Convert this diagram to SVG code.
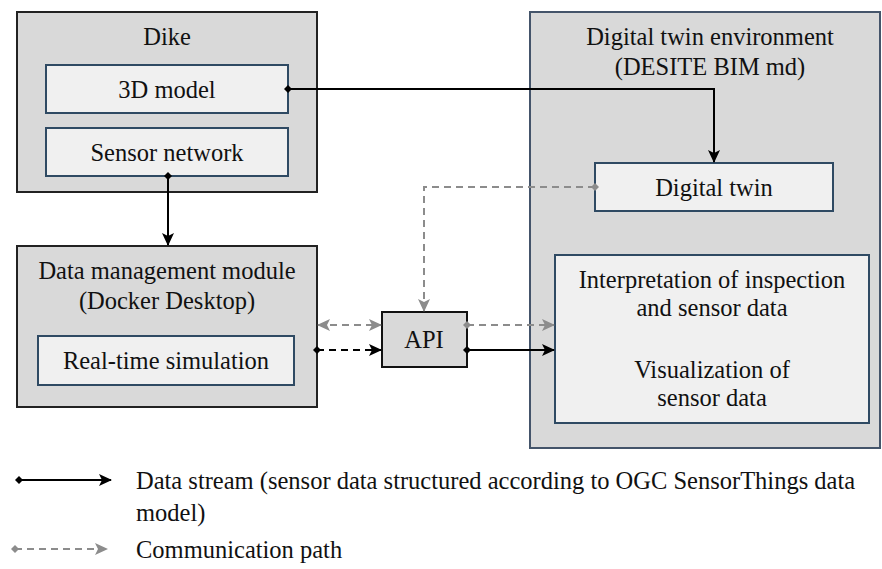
<svg xmlns="http://www.w3.org/2000/svg" width="882" height="569" viewBox="0 0 882 569">
<style>
text{font-family:"Liberation Serif","Times New Roman",serif;font-size:24.5px;fill:#111;text-anchor:middle}
.outer{fill:#d9d9d9;stroke:#222;stroke-width:2}
.outerb{fill:#d9d9d9;stroke:#44546a;stroke-width:2}
.inner{fill:#f0f0f0;stroke:#2f4a63;stroke-width:2}
.api{fill:#d9d9d9;stroke:#111;stroke-width:2}
.solid{fill:none;stroke:#000;stroke-width:2}
.bdash{fill:none;stroke:#000;stroke-width:2;stroke-dasharray:7 5}
.gdash{fill:none;stroke:#8c8c8c;stroke-width:2;stroke-dasharray:7 5}
.lt{text-anchor:start}
</style>
<defs>
<marker id="ab" viewBox="0 0 13 12" refX="12" refY="6" markerWidth="13" markerHeight="12" markerUnits="userSpaceOnUse" orient="auto"><path d="M0,0 L13,6 L0,12 L3,6 z" fill="#000"/></marker>
<marker id="ag" viewBox="0 0 13 12" refX="12" refY="6" markerWidth="13" markerHeight="12" markerUnits="userSpaceOnUse" orient="auto-start-reverse"><path d="M0,0 L13,6 L0,12 L3,6 z" fill="#8c8c8c"/></marker>
<marker id="db" viewBox="0 0 8 8" refX="4" refY="4" markerWidth="8" markerHeight="8" markerUnits="userSpaceOnUse"><path d="M4,0 L8,4 L4,8 L0,4 z" fill="#000"/></marker>
<marker id="dg" viewBox="0 0 8 8" refX="4" refY="4" markerWidth="8" markerHeight="8" markerUnits="userSpaceOnUse"><path d="M4,0 L8,4 L4,8 L0,4 z" fill="#8c8c8c"/></marker>
</defs>
<g id="dike">
<rect class="outer" x="17" y="12" width="300" height="180"/>
<text x="167" y="45">Dike</text>
</g>
<g id="model3d">
<rect class="inner" x="46" y="65" width="242" height="48"/>
<text x="167" y="98">3D model</text>
</g>
<g id="sensornet">
<rect class="inner" x="46" y="128" width="242" height="48"/>
<text x="167" y="161">Sensor network</text>
</g>
<g id="datamgmt">
<rect class="outer" x="17" y="246" width="300" height="161"/>
<text x="167" y="279">Data management module</text>
<text x="167" y="309">(Docker Desktop)</text>
</g>
<g id="realtime">
<rect class="inner" x="38" y="336" width="256" height="49"/>
<text x="166" y="369">Real-time simulation</text>
</g>
<g id="api">
<rect class="api" x="382" y="312" width="85" height="55"/>
<text x="424" y="348">API</text>
</g>
<g id="dtenv">
<rect class="outerb" x="530" y="12" width="350" height="436"/>
<text x="710" y="45">Digital twin environment</text>
<text x="710" y="75">(DESITE BIM md)</text>
</g>
<g id="digitaltwin">
<rect class="inner" x="595" y="163" width="238" height="48"/>
<text x="714" y="196">Digital twin</text>
</g>
<g id="interp">
<rect class="inner" x="555" y="255" width="314" height="168"/>
<text x="712" y="288">Interpretation of inspection</text>
<text x="712" y="316">and sensor data</text>
<text x="712" y="378">Visualization of</text>
<text x="712" y="406">sensor data</text>
</g>
<g id="connectors">
<path class="solid" d="M288,89 H714 V162" marker-start="url(#db)" marker-end="url(#ab)"/>
<path class="solid" d="M168,176 V245" marker-start="url(#db)" marker-end="url(#ab)"/>
<path class="gdash" d="M595,187 H424 V311" marker-start="url(#dg)" marker-end="url(#ag)"/>
<path class="gdash" d="M318,325 H381" marker-start="url(#ag)" marker-end="url(#ag)"/>
<path class="bdash" d="M317,350 H381" marker-start="url(#db)" marker-end="url(#ab)"/>
<path class="gdash" d="M467,325 H554" marker-start="url(#dg)" marker-end="url(#ag)"/>
<path class="solid" d="M467,350 H554" marker-start="url(#db)" marker-end="url(#ab)"/>
</g>
<g id="legend">
<path class="solid" d="M19,480 H111" marker-start="url(#db)" marker-end="url(#ab)"/>
<text class="lt" x="136" y="489">Data stream (sensor data structured according to OGC SensorThings data</text>
<text class="lt" x="136" y="521">model)</text>
<path class="gdash" d="M15,549 H107" marker-start="url(#dg)" marker-end="url(#ag)"/>
<text class="lt" x="136" y="558">Communication path</text>
</g>
</svg>
